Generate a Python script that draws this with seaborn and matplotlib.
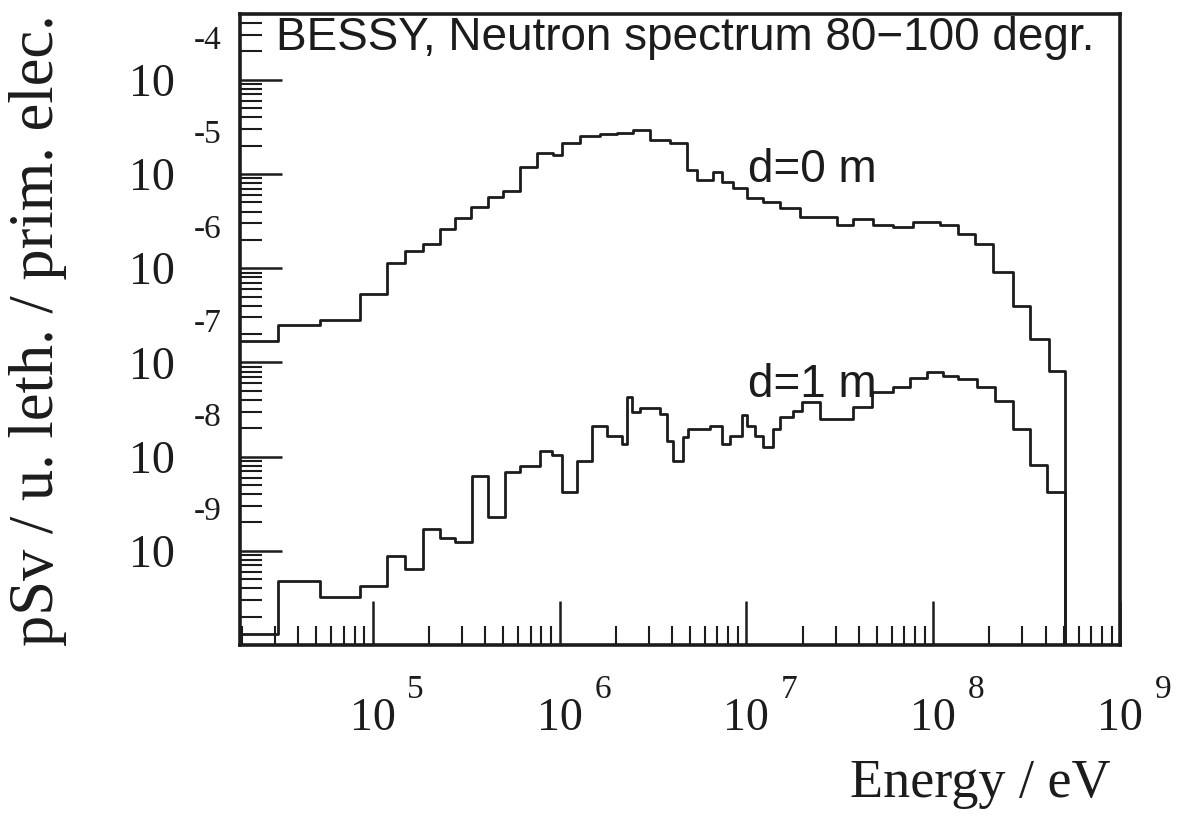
import numpy as np
import pandas as pd
import matplotlib
matplotlib.use("Agg")
import matplotlib.pyplot as plt
import seaborn as sns
from matplotlib.ticker import FixedLocator, FixedFormatter, LogLocator, NullFormatter

# ---------------- data ----------------
# d = 0 m : bin edges [eV] and dose per unit lethargy [pSv / prim. elec.]
edges_d0 = [1.95e4, 3.10e4, 5.25e4, 8.52e4, 1.20e5, 1.48e5, 1.85e5, 2.28e5, 2.75e5,
            3.37e5, 4.13e5, 5.00e5, 6.13e5, 7.55e5, 9.20e5, 1.028e6, 1.283e6, 1.643e6,
            2.03e6, 2.47e6, 3.04e6, 3.89e6, 4.80e6, 5.42e6, 6.62e6, 7.44e6, 8.47e6,
            1.006e7, 1.226e7, 1.511e7, 1.934e7, 3.05e7, 3.72e7, 4.78e7, 6.09e7, 7.79e7,
            1.087e8, 1.357e8, 1.68e8, 2.10e8, 2.673e8, 3.30e8, 4.17e8, 5.10e8]
dose_d0 = [1.68e-7, 2.48e-7, 2.80e-7, 5.28e-7, 1.125e-6, 1.507e-6, 1.787e-6, 2.58e-6,
           3.45e-6, 4.52e-6, 5.77e-6, 6.67e-6, 1.198e-5, 1.685e-5, 1.605e-5, 2.15e-5,
           2.55e-5, 2.68e-5, 2.75e-5, 2.95e-5, 2.31e-5, 2.15e-5, 1.113e-5, 8.72e-6,
           1.06e-5, 8.31e-6, 7.18e-6, 5.62e-6, 5.10e-6, 4.41e-6, 3.54e-6, 2.91e-6,
           3.29e-6, 2.91e-6, 2.77e-6, 3.13e-6, 2.91e-6, 2.28e-6, 1.787e-6, 9.03e-7,
           3.94e-7, 1.76e-7, 8.07e-8]

# d = 1 m
edges_d1 = [1.95e4, 3.10e4, 5.25e4, 8.52e4, 1.20e5, 1.48e5, 1.85e5, 2.28e5, 2.75e5,
            3.41e5, 4.13e5, 5.09e5, 6.13e5, 7.84e5, 9.09e5, 1.028e6, 1.237e6, 1.489e6,
            1.79e6, 2.154e6, 2.29e6, 2.44e6, 2.69e6, 3.44e6, 3.75e6, 4.04e6, 4.57e6,
            4.86e6, 6.38e6, 7.39e6, 8.16e6, 9.46e6, 1.006e7, 1.11e7, 1.226e7, 1.387e7,
            1.511e7, 1.774e7, 1.98e7, 2.475e7, 3.72e7, 4.70e7, 6.09e7, 7.51e7, 9.26e7,
            1.128e8, 1.357e8, 1.715e8, 2.14e8, 2.673e8, 3.30e8, 4.07e8, 5.10e8]
dose_d1 = [1.3e-10, 4.81e-10, 3.26e-10, 4.26e-10, 8.85e-10, 6.45e-10, 1.71e-9, 1.37e-9,
           1.245e-9, 6.23e-9, 2.29e-9, 6.87e-9, 7.95e-9, 1.146e-8, 1.04e-8, 4.22e-9,
           8.98e-9, 2.11e-8, 1.65e-8, 1.36e-8, 4.28e-8, 2.97e-8, 3.27e-8, 2.83e-8,
           1.46e-8, 8.98e-9, 1.61e-8, 1.96e-8, 2.11e-8, 1.36e-8, 1.65e-8, 2.76e-8,
           2.11e-8, 1.65e-8, 1.26e-8, 1.96e-8, 2.63e-8, 3.04e-8, 3.79e-8, 2.50e-8,
           3.35e-8, 4.83e-8, 5.46e-8, 6.80e-8, 7.87e-8, 7.14e-8, 6.64e-8, 5.46e-8,
           3.88e-8, 1.96e-8, 8.15e-9, 4.22e-9]
EMPTY_BIN = 1e-13  # content beyond the last edge (empty)

series_names = ["d=0 m", "d=1 m"]
label_pos_energy = [1.02e7, 1.02e7]
label_pos_dose = [1.09e-5, 5.73e-8]

xtick_values = [1e5, 1e6, 1e7, 1e8, 1e9]
xtick_exponents = ["5", "6", "7", "8", "9"]
ytick_values = [1e-4, 1e-5, 1e-6, 1e-7, 1e-8, 1e-9]
ytick_exponents = ["-4", "-5", "-6", "-7", "-8", "-9"]

title = "BESSY, Neutron spectrum 80\u2212100 degr."
xlabel = "Energy / eV"
ylabel = "pSv / u. leth. / prim. elec."

# ---------------- build table ----------------
frames = []
for name, edges, dose in [(series_names[0], edges_d0, dose_d0),
                          (series_names[1], edges_d1, dose_d1)]:
    frames.append(pd.DataFrame({"energy": edges,
                                "dose": list(dose) + [EMPTY_BIN],
                                "series": name}))
df = pd.concat(frames, ignore_index=True)

# ---------------- style ----------------
sns.set_theme(style="white")
plt.rcParams["font.family"] = ["Liberation Serif", "DejaVu Serif"]
SERIF = ["Liberation Serif", "DejaVu Serif"]
SANS = ["Liberation Sans", "DejaVu Sans"]
INK = "#1c1c1c"

fig = plt.figure(figsize=(11.79, 8.17), dpi=100)
ax = fig.add_axes([0.2036, 0.2105, 0.7464, 0.7724])

sns.lineplot(data=df, x="energy", y="dose", units="series", estimator=None,
             color=INK, linewidth=2.0, drawstyle="steps-post", ax=ax, legend=False)

ax.set_xscale("log")
ax.set_yscale("log")
ax.set_xlim(1.95e4, 1e9)
ax.set_ylim(1.0e-10, 5.0e-4)

for sp in ax.spines.values():
    sp.set_visible(True)
    sp.set_color(INK)
    sp.set_linewidth(2.6)

# ticks
ax.xaxis.set_major_locator(FixedLocator(xtick_values))
ax.xaxis.set_major_formatter(FixedFormatter(["10"] * len(xtick_values)))
ax.xaxis.set_minor_locator(LogLocator(base=10, subs=np.arange(2, 10), numticks=100))
ax.xaxis.set_minor_formatter(NullFormatter())
ax.yaxis.set_major_locator(FixedLocator(ytick_values))
ax.yaxis.set_major_formatter(FixedFormatter(["10"] * len(ytick_values)))
ax.yaxis.set_minor_locator(LogLocator(base=10, subs=np.arange(2, 10), numticks=100))
ax.yaxis.set_minor_formatter(NullFormatter())

ax.tick_params(axis="both", which="both", direction="in", colors=INK,
               top=False, right=False, bottom=True, left=True)
ax.tick_params(axis="y", which="major", length=30, width=1.8, pad=47, labelsize=33)
ax.tick_params(axis="y", which="minor", length=16, width=1.5)
ax.tick_params(axis="x", which="major", length=32, width=1.8, pad=38, labelsize=33)
ax.tick_params(axis="x", which="minor", length=14, width=1.5)
for lab in ax.get_xticklabels() + ax.get_yticklabels():
    lab.set_family(SERIF)
    lab.set_color(INK)

# exponents of the tick labels (ROOT-like placement)
for val, ex in zip(ytick_values, ytick_exponents):
    ax.annotate(ex, xy=(0, val), xycoords=("axes fraction", "data"),
                xytext=(-13, 28), textcoords="offset points", ha="right",
                va="center", fontsize=24, family=SERIF, color=INK,
                annotation_clip=False)
for val, ex in zip(xtick_values, xtick_exponents):
    ax.annotate(ex, xy=(val, 0), xycoords=("data", "axes fraction"),
                xytext=(31, -32), textcoords="offset points", ha="center",
                va="center", fontsize=24, family=SERIF, color=INK,
                annotation_clip=False)

# axis titles
ax.set_xlabel(xlabel, loc="right", fontsize=39, family=SERIF, color=INK)
ax.xaxis.set_label_coords(0.989, -0.18)
ax.set_ylabel(ylabel, loc="top", fontsize=45, family=SERIF, color=INK)
ax.yaxis.set_label_coords(-0.197, 1.0)

# in-frame texts
ax.text(0.041, 0.962, title, transform=ax.transAxes, ha="left", va="center",
        fontsize=33, family=SANS, color=INK)
for name, ex, dy in zip(series_names, label_pos_energy, label_pos_dose):
    ax.text(ex, dy, name, ha="left", va="center", fontsize=33, family=SANS,
            color=INK)

fig.savefig("out.png", dpi=100)
